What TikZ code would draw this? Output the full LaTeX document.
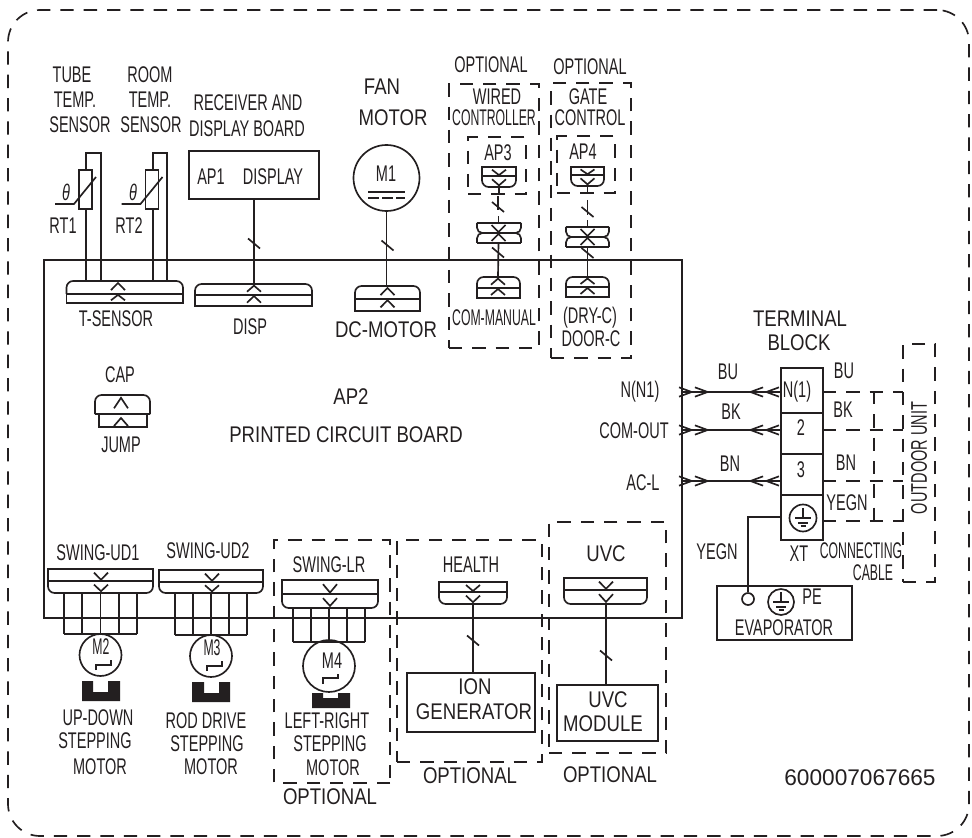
\documentclass[tikz,border=0pt]{standalone}
\usepackage{fontspec}
\setmainfont[FakeStretch=0.64]{Liberation Sans}
\newfontfamily\widefont[FakeStretch=0.82]{Liberation Sans}
\newfontfamily\narrowfont[FakeStretch=0.54]{Liberation Sans}
\newfontfamily\codefont{Liberation Sans}
\usetikzlibrary{arrows.meta}
\definecolor{ink}{HTML}{231F20}
\tikzset{
	wire/.style={draw=ink, line width=1.25pt},
	dashbox/.style={draw=ink, line width=1.25pt, dash pattern=on 10pt off 7.5pt},
	cell/.style 2 args={draw=ink, line width=1.25pt, inner sep=0pt, minimum width=#1*0.75pt, minimum height=#2*0.75pt},
	lbl/.style={text=ink, inner sep=0pt, font=\fontsize{17}{19}\selectfont},
	wide/.style={lbl, font=\widefont\fontsize{17}{19}\selectfont},
	narrow/.style={lbl, font=\narrowfont\fontsize{17}{19}\selectfont},
	chev/.style={-{Straight Barb[length=9.5pt,width=7pt]Straight Barb[length=9.5pt,width=7pt]}},
	dot/.style={coordinate}
}
\begin{document}
\begin{tikzpicture}[x=0.75pt, y=-0.75pt, wire]
	\useasboundingbox (0,0) rectangle (972,838);

	\node[cell={961}{826}, dashbox, rounded corners=24pt] (frame) at (488.5,423) {};
	\node[cell={638}{358}] (board) at (363,439) {};

	\foreach \n/\x/\y/\t in {tube/72/75/TUBE, tubet/75/100/TEMP., tubes/80/125/SENSOR,
		room/150/75/ROOM, roomt/150/100/TEMP., rooms/151/125/SENSOR,
		recv/248/103/RECEIVER AND, recd/247/129/DISPLAY BOARD,
		rtone/63/226/RT1, rttwo/129/226/RT2, apone/211/177/AP1, apdisp/273/177/DISPLAY,
		mone/386/174/M1,
		opta/491/65/OPTIONAL, optb/590/67/OPTIONAL, wired/497/97/WIRED, gate/588/97/GATE,
		ctrl/590/118/CONTROL, apthree/498/153/AP3, apfour/583/152/AP4,
		tsens/116/319/T-SENSOR, disp/250/327/DISP,
		dry/590/318/(DRY-C), door/591/339/DOOR-C,
		cap/120/375/CAP, jump/121/445/JUMP,
		nnone/640/392/N(N1), comout/634/431/COM-OUT, acl/643/483/AC-L,
		bul/728/372/BU, bkl/731/412/BK, bnl/730/464/BN,
		bur/844/371/BU, bkr/843/410/BK, bnr/846/463/BN, yer/847/503/YEGN,
		none/797/392/N(1), ntwo/801/428/2, nthree/801/470/3,
		yel/717/552/YEGN, xt/799/554/XT, pel/812/597/PE, evap/784/628/EVAPORATOR,
		udone/98/553/SWING-UD1, udtwo/208/551/SWING-UD2, lr/329/565/SWING-LR,
		mfour/332/661/M4,
		up/98/718/UP-DOWN, upb/95/741/STEPPING, upc/100/767/MOTOR,
		rod/206/721/ROD DRIVE, rodb/207/744/STEPPING, rodc/211/767/MOTOR,
		left/327/721/LEFT-RIGHT, leftb/330/744/STEPPING, leftc/333/768/MOTOR,
		health/471/565/HEALTH}
	{
		\node[lbl] (t\n) at (\x,\y) {\t};
	}
	\foreach \n/\x/\y/\t in {fan/382/87/FAN, fanm/393/118/MOTOR, dcmot/386/330/DC-MOTOR,
		aptwo/351/397/AP2, pcb/346/435/PRINTED CIRCUIT BOARD,
		term/800/319/TERMINAL, block/799/343/BLOCK,
		optc/330/797/OPTIONAL, optd/470/776/OPTIONAL, opte/610/775/OPTIONAL, uvc/606/554/UVC,
		ion/475/687/ION, gen/474/712/GENERATOR, uvcm/608/700/UVC, mod/603/724/MODULE}
	{
		\node[wide] (t\n) at (\x,\y) {\t};
	}
	\foreach \n/\x/\y/\t in {ctr/494/118/CONTROLLER, manual/494/318/COM-MANUAL, conn/861/551/CONNECTING,
		cable/873/573/CABLE, mtwo/101/647/M2, mthree/212/648/M3}
	{
		\node[narrow] (t\n) at (\x,\y) {\t};
	}
	\node[lbl, rotate=90] (tout) at (919,458) {OUTDOOR UNIT};
	\node[lbl, font=\codefont\fontsize{17}{19}\selectfont] (tcode) at (860,778) {600007067665};
	\node[lbl, font=\itshape\fontsize{17}{19}\selectfont] (tha) at (66,192) {θ};
	\node[lbl, font=\itshape\fontsize{17}{19}\selectfont] (thb) at (133,192) {θ};

	\foreach \n/\cx/\l/\r/\o/\m/\i in {tsensor/118/66.5/183/281/294/303, dispc/254/195/312/284/295/306,
		dcm/387.5/355/420/286/299/311, com/498/477/520/277/288/298, doorc/587.5/566/609/277/287/297,
		jumper/121/95/150/395/414/414, apc/499/482/516/187/176/167, apd/587.5/571/604/186/175/167,
		swa/101/48/153/593/581/569, swb/212/159/263/593/582/570, swc/330/282/378/608/594/580,
		hea/473/439/507/604/592/582, uvcc/606/564/647/604/590/578}
	{
		\pgfmathsetmacro{\ba}{\i+.3*(\m-\i)}
		\pgfmathsetmacro{\aa}{\i+.9*(\m-\i)}
		\pgfmathsetmacro{\bb}{\m+.3*(\o-\m)}
		\pgfmathsetmacro{\ab}{\m+.85*(\o-\m)}
		\draw[rounded corners=5pt] (\l,\m) -- (\l,\o) -- (\r,\o) -- (\r,\m);
		\draw (\l,\m) rectangle (\r,\i);
		\draw (\cx-7,\ba) -- (\cx,\aa) -- (\cx+7,\ba);
		\draw (\cx-7,\bb) -- (\cx,\ab) -- (\cx+7,\bb);
		\node[dot] (\n) at (\cx,\o) {};
	}
	\node[cell={48}{13}] (jumpb) at (123,420.5) {};
	\draw (114,426) -- (121,418) -- (128,426);

	\foreach \n/\cx/\l/\r/\t/\m/\b in {cpa/498.5/477/521/223/233/243, cpb/587.5/566/609/227/237/247}
	{
		\draw[rounded corners=4pt] (\l,\t) -- (\l,\m) -- (\r,\m) -- (\r,\t);
		\draw[rounded corners=4pt] (\l,\b) -- (\l,\m) -- (\r,\m) -- (\r,\b);
		\draw (\l,\t) -- (\r,\t);
		\draw (\l,\b) -- (\r,\b);
		\draw (\cx-7,\t+2) -- (\cx,\m-1) -- (\cx+7,\t+2);
		\draw (\cx-7,\b-2) -- (\cx,\m+1) -- (\cx+7,\b-2);
		\node[dot] (\n t) at (\cx,\t) {};
		\node[dot] (\n b) at (\cx,\b) {};
	}

	\foreach \i/\a/\b/\rx in {1/86/101/85.5, 2/153/167/152}
	{
		\node[dot] (sa\i) at (\a,281) {};
		\node[dot] (sb\i) at (\b,281) {};
		\draw (sa\i) |- (\b,153) -- (sb\i);
		\node[cell={13}{39}, fill=white] (rt\i) at (\rx,189.5) {};
		\draw (\rx-30.5,204) -- (\rx-11.5,204) -- (\rx+10.5,177);
	}

	\node[cell={130}{48}] (apone) at (254,175) {};
	\draw (apone.south) -- (dispc);
	\node[cell={66}{66}, circle] (mone) at (386.5,178) {};
	\draw (mone.south) -- (mone.south |- dcm);
	\draw (368,192) -- (405,192);
	\draw[dash pattern=on 8pt off 2.5pt] (368,198) -- (405,198);

	\node[cell={58}{57}, dashbox] (boxc) at (497,165.5) {};
	\node[cell={58}{57}, dashbox] (boxd) at (586,164.5) {};
	\node[cell={90}{264}, dashbox] (boxa) at (494,216) {};
	\node[cell={80}{275}, dashbox] (boxb) at (591,220.5) {};
	\draw (apc) -- (apc |- boxc.south);
	\draw (apd) -- (apd |- boxd.south);
	\draw (498,196) -- (498,210);
	\draw (587.5,200) -- (587.5,215);
	\draw (cpat) -- +(0,-7);
	\draw (cpbt) -- +(0,-7);
	\draw (cpab) -- (com);
	\draw (cpbb) -- (doorc);

	\foreach \x/\y in {254/243.5, 387.5/245.5, 498/207, 498/252.5, 587.5/212, 587.5/253, 473/640.5, 606/655.5}
	{
		\draw (\x-6,\y-5) -- (\x+6,\y+5);
	}

	\foreach \n/\l/\r/\o/\b/\cy/\rad in {swa/64/137/593/634/655/42, swb/175/247/593/635/656/42, swc/293/365/608/642/666/52}
	{
		\pgfmathsetmacro{\ca}{\l+(\r-\l)/4}
		\pgfmathsetmacro{\cb}{\l+(\r-\l)/2}
		\pgfmathsetmacro{\cc}{\l+3*(\r-\l)/4}
		\foreach \x in {\l,\ca,\cb,\cc,\r}
		{
			\draw (\x,\o) -- (\x,\b);
		}
		\draw (\l,\b) -- (\r,\b);
		\node[cell={\rad}{\rad}, circle] (m\n) at (\cb,\cy) {};
	}
	\draw (96,670) -- (96,665) -- (111,665) -- (111,660);
	\draw (207,671) -- (207,666) -- (222,666) -- (222,661);
	\draw (323,684) -- (323,678) -- (338,678) -- (338,674);

	\foreach \l/\t/\b/\nl/\nb in {82/681/701/93/692, 192/682/702/204/693, 312/693/708/323/698}
	{
		\fill[ink] (\l,\t) -- (\nl,\t) -- (\nl,\nb) -- (\nl+15,\nb) -- (\nl+15,\t) -- (\l+38,\t) -- (\l+38,\b) -- (\l,\b) -- cycle;
	}

	\node[cell={145}{222}, dashbox] (boxh) at (469.5,651) {};
	\node[cell={117}{231}, dashbox] (boxu) at (607.5,637.5) {};
	\draw[dashbox] (390,783) -| (274,540) -- (390,540) -- cycle;
	\node[cell={128}{59}] (ion) at (471,702.5) {};
	\node[cell={101}{56}] (uvcm) at (607.5,713) {};
	\draw (hea) -- (hea |- ion.north);
	\draw (uvcc) -- (uvcc |- uvcm.north);

	\node[cell={42}{45}] (tb1) at (802,390.5) {};
	\node[cell={42}{41}] (tb2) at (802,433.5) {};
	\node[cell={42}{41}] (tb3) at (802,474.5) {};
	\node[cell={42}{45}] (tb4) at (802,517.5) {};
	\node[cell={135}{54}] (evap) at (784.5,613) {};
	\node[cell={32}{238}, dashbox] (outd) at (919,463) {};
	\node[cell={12}{12}, circle] (pe) at (748,599) {};
	\node[dot] (gnd) at (781,517) {};
	\draw (gnd) -| (pe.north);

	\foreach \n/\x/\y/\s in {ea/803/518/27, eb/781/602/26}
	{
		\node[cell={\s}{\s}, circle] (\n) at (\x,\y) {};
		\draw (\x,\y-10) -- (\x,\y);
		\draw (\x-8,\y) -- (\x+8,\y);
		\draw (\x-5,\y+5) -- (\x+5,\y+5);
		\draw (\x-2.5,\y+8) -- (\x+2.5,\y+8);
	}

	\foreach \i/\y in {1/392, 2/430, 3/481}
	{
		\node[dot] (bd\i) at (682,\y) {};
		\node[dot] (tl\i) at (781,\y) {};
		\node[dot] (ml\i) at (710,\y) {};
		\node[dot] (mr\i) at (748,\y) {};
		\node[dot] (tr\i) at (823,\y) {};
		\node[dot] (ou\i) at (903,\y) {};
		\draw (bd\i) -- (tl\i);
		\draw[chev] (bd\i) -- (ml\i);
		\draw[chev] (tl\i) -- (mr\i);
		\draw[dashbox] (tr\i) -- (ou\i);
	}
	\node[dot] (tr4) at (823,521) {};
	\node[dot] (ou4) at (903,521) {};
	\draw[dashbox] (tr4) -- (ou4);
	\node[dot] (jn1) at (874,391) {};
	\node[dot] (jn4) at (874,521) {};
	\draw[dashbox] (jn1) -- (jn4);
\end{tikzpicture}
\end{document}
